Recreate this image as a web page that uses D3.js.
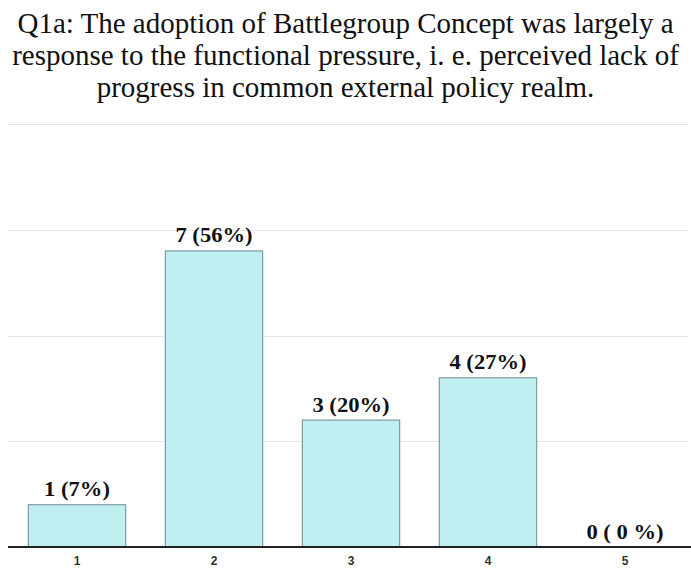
<!DOCTYPE html>
<html><head><meta charset="utf-8">
<script src="https://cdn.jsdelivr.net/npm/d3@7"></script>
<style>body{margin:0;background:#fff}svg{display:block}</style>
</head><body>
<script>
const categories = ["1","2","3","4","5"];
const counts = [1,7,3,4,0];
const labels = ["1 (7%)","7 (56%)","3 (20%)","4 (27%)","0 ( 0 %)"];
const gridValues = [2.5,5,7.5,10];
const titleLines = ["Q1a: The adoption of Battlegroup Concept was largely a","response to the functional pressure, i. e. perceived lack of","progress in common external policy realm."];

const W=691,H=569;
const svg=d3.select("body").append("svg").attr("width",W).attr("height",H);
const x=d3.scaleBand().domain(categories).range([8.5,693.5]).paddingInner(0.29).paddingOuter(0.145);
const y=d3.scaleLinear().domain([0,10]).range([547,124]);

svg.selectAll("text.title").data(titleLines).join("text")
  .attr("x",W/2).attr("y",(d,i)=>33+i*32.2).attr("text-anchor","middle")
  .attr("font-family","Liberation Serif, Times New Roman, serif").attr("font-size",29).attr("fill","#111")
  .text(d=>d);

svg.selectAll("line.grid").data(gridValues).join("line")
  .attr("x1",8).attr("x2",688).attr("y1",d=>Math.round(y(d))+0.5).attr("y2",d=>Math.round(y(d))+0.5)
  .attr("stroke","#e6e6e6").attr("stroke-width",1);

svg.selectAll("rect.bar").data(counts).join("rect")
  .attr("x",(d,i)=>x(categories[i])).attr("width",x.bandwidth())
  .attr("y",d=>y(d)).attr("height",d=>y(0)-y(d))
  .attr("fill","#c0eff1").attr("stroke","#7c9ca2").attr("stroke-width",1.2)
  .style("display",d=>d>0?null:"none");

svg.selectAll("text.val").data(counts).join("text")
  .attr("transform",(d,i)=>`translate(${x(categories[i])+x.bandwidth()/2},${y(d)-8.5}) scale(1.13,1)`)
  .attr("text-anchor","middle").attr("font-family","Liberation Serif, Times New Roman, serif")
  .attr("font-weight","bold").attr("font-size",20).attr("fill","#111")
  .text((d,i)=>labels[i]);

const ax=svg.append("g").attr("transform","translate(0,547)")
  .call(d3.axisBottom(x).tickSize(0).tickPadding(9));
ax.select(".domain").attr("d","M8,0H691").attr("stroke","#222").attr("stroke-width",1.8);
ax.selectAll("text").attr("font-family","Liberation Sans, Arial, sans-serif").attr("font-size",12).attr("font-weight","bold").attr("fill","#333");
</script>
</body></html>
